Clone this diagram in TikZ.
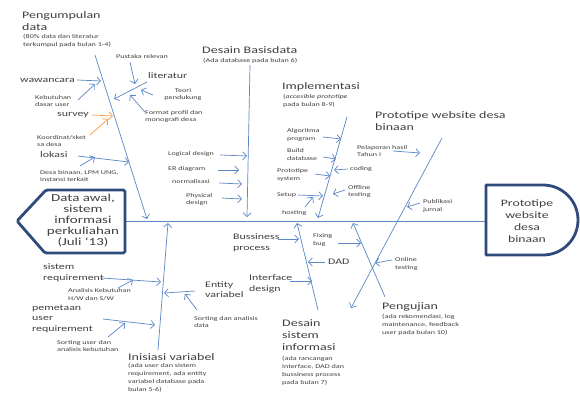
\documentclass[tikz,border=0pt]{standalone}
\usepackage{fontspec}
\setmainfont[FakeStretch=1.4]{Carlito}
\usetikzlibrary{arrows.meta}
\definecolor{ln}{HTML}{5B87C5}
\definecolor{org}{HTML}{F79646}
\definecolor{bx}{HTML}{2F4B7C}
\definecolor{txt}{HTML}{404040}
\tikzset{
 lbl/.style={inner sep=0pt, text=txt, align=left, anchor=west},
 ttl/.style={lbl, font=\fontsize{10}{12}\selectfont},
 mid/.style={lbl, font=\fontsize{8.5}{10.5}\selectfont},
 sml/.style={lbl, font=\fontsize{5.8}{7.9}\selectfont},
 arr/.style={draw=ln, line width=0.7pt, -{Straight Barb[length=3.8pt,width=8pt]}},
 oarr/.style={arr, draw=org},
 bone/.style={arr},
 spine/.style={draw=ln, line width=0.8pt},
 boxline/.style={draw=bx, line width=2.8pt, fill=white, line join=round}
}
\begin{document}
\begin{tikzpicture}[x=1pt,y=-1pt]
\useasboundingbox[fill=white] (0,0) rectangle (580,394);

% spine
\coordinate (lb) at (125,221);
\coordinate (rb) at (486,221);
\draw[spine] (lb) -- (rb);

% boxes
\draw[boxline, rounded corners=1.5pt] (125,190) -- (125,253) -- (45,253) -- (17,221) -- (46,190) -- cycle;
\draw[boxline] (486,185) -- (543,185) .. controls (562.3,185) and (578,200.7) .. (578,220)
  .. controls (578,239.3) and (562.3,255) .. (543,255) -- (486,255) -- cycle;
\node[font=\fontsize{10.7}{10.8}\selectfont, align=center, text=txt, inner sep=0pt] (src) at (83,220.5) {Data awal,\\sistem\\informasi\\perkuliahan\\(Juli `13)};
\node[font=\fontsize{9.8}{12}\selectfont, align=center, text=txt, inner sep=0pt] (dst) at (527,221) {Prototipe\\website\\desa\\binaan};

% titles
\node[ttl] (t1) at (22,21) {Pengumpulan\\data};
\node[sml] (s1) at (23,41) {(80\% data dan literatur\\terkumpul pada bulan 1-4)};
\node[ttl] (t2) at (202,50) {Desain Basisdata};
\node[sml] (s2) at (203,61) {(Ada database pada bulan 6)};
\node[ttl] (t3) at (282,87) {Implementasi};
\node[sml] (s3) at (283,101) {(\textit{accesible prototipe}\\pada bulan 8-9)};
\node[ttl] (t4) at (375,121) {Prototipe website desa\\binaan};
\node[ttl] (t5) at (382,307) {Pengujian};
\node[sml] (s5) at (382,325) {(ada rekomendasi, log\\maintenance, feedback\\user pada bulan 10)};
\node[ttl] (t6) at (282,335) {Desain\\sistem\\informasi};
\node[sml] (s6) at (282,370.5) {(ada rancangan\\interface, DAD dan\\bussiness process\\pada bulan 7)};
\node[ttl] (t7) at (128,357) {Inisiasi variabel};
\node[sml] (s7) at (128,378) {(ada user dan sistem\\requirement, ada entity\\variabel database pada\\bulan 5-6)};

% medium labels
\node[mid] (wawancara) at (20,80) {wawancara};
\node[mid] (survey) at (57,115) {survey};
\node[mid] (lokasi) at (40,155) {lokasi};
\node[mid] (literatur) at (148,76) {literatur};
\node[mid] (sisreq) at (43,273) {sistem\\requirement};
\node[mid] (pemetaan) at (32,318.5) {pemetaan\\user\\requirement};
\node[mid] (entity) at (205,289.5) {Entity\\variabel};
\node[mid] (bussiness) at (233,243) {Bussiness\\process};
\node[mid] (interface) at (249,284) {Interface\\design};
\node[mid] (dad) at (328,262) {DAD};

% small labels
\node[sml] (pustaka) at (116,57) {Pustaka relevan};
\node[sml] (kebutuhan) at (35,101) {Kebutuhan\\dasar user};
\node[sml, align=center, anchor=center] (teori) at (183,94.5) {Teori\\pendukung};
\node[sml] (format) at (145,116.5) {Format profil dan\\monografi desa};
\node[sml] (koordinat) at (37,141) {Koordinat/sket\\sa desa};
\node[sml] (desabinaan) at (40,176) {Desa binaan, LPM UNG,\\instansi terkait};
\node[sml] (logical) at (168,154) {Logical design};
\node[sml] (er) at (168,169) {ER diagram};
\node[sml] (normal) at (172,182) {normalisasi};
\node[sml] (physical) at (186,199.5) {Physical\\design};
\node[sml] (algo) at (287,135) {Algoritma\\program};
\node[sml] (build) at (287,154.5) {Build\\database};
\node[sml] (protosys) at (277,175) {Prototipe\\system};
\node[sml] (setup) at (277,195) {Setup};
\node[sml] (hosting) at (282,213) {hosting};
\node[sml] (coding) at (350,169) {coding};
\node[sml] (offline) at (348,191.5) {Offline\\testing};
\node[sml] (pelaporan) at (357,151) {Pelaporan hasil\\Tahun I};
\node[sml] (publikasi) at (423,206) {Publikasi\\jurnal};
\node[sml] (fixing) at (313,240) {Fixing\\bug};
\node[sml] (online) at (395,264) {Online\\testing};
\node[sml] (analisis) at (68,295) {Analisis Kebutuhan\\H/W dan S/W};
\node[sml] (sortuser) at (57,346) {Sorting user dan\\analisis kebutuhan};
\node[sml] (sortdata) at (194,322) {Sorting dan analisis\\data};

% bones
\coordinate (b1s) at (95,55);   \coordinate (b1e) at (147,219);
\coordinate (b2s) at (250,65);  \coordinate (b2e) at (247,217);
\coordinate (b3s) at (347,117); \coordinate (b3e) at (318,218);
\coordinate (b4s) at (442,138); \coordinate (b4e) at (351,308);
\coordinate (b5s) at (385,297); \coordinate (b5e) at (353,223);
\coordinate (b6s) at (318,310); \coordinate (b6e) at (297,223);
\coordinate (b7s) at (158,350); \coordinate (b7e) at (168,223);
\foreach \b in {1,...,7} \draw[bone] (b\b s) -- (b\b e);

% Pengumpulan data
\coordinate (a1s) at (77,80);   \coordinate (a1e) at (101,81);
\coordinate (a2s) at (78,100);  \coordinate (a2e) at (95,84);
\coordinate (a3s) at (147,82);  \coordinate (a3e) at (114,99);
\coordinate (a4s) at (130,62);  \coordinate (a4e) at (135,84);
\coordinate (a5s) at (153,95);  \coordinate (a5e) at (141,90);
\coordinate (a6s) at (145,112); \coordinate (a6e) at (130,95);
\coordinate (a7s) at (78,156);  \coordinate (a7e) at (129,162);
\coordinate (a8s) at (80,166);  \coordinate (a8e) at (95,157);
\foreach \a in {1,...,8} \draw[arr] (a\a s) -- (a\a e);
\coordinate (o1s) at (92,115);  \coordinate (o1e) at (113,116);
\coordinate (o2s) at (90,135);  \coordinate (o2e) at (108,119);
\draw[oarr] (o1s) -- (o1e);
\draw[oarr] (o2s) -- (o2e);

% Desain Basisdata
\coordinate (c1s) at (220,155); \coordinate (c1e) at (247,156);
\coordinate (c2s) at (218,170); \coordinate (c2e) at (239,170);
\coordinate (c3s) at (219,183); \coordinate (c3e) at (242,184);
\coordinate (c4s) at (222,198); \coordinate (c4e) at (242,199);
\foreach \a in {1,...,4} \draw[arr] (c\a s) -- (c\a e);

% Implementasi
\coordinate (d1s) at (323,137); \coordinate (d1e) at (341,139);
\coordinate (d2s) at (323,157); \coordinate (d2e) at (336,159);
\coordinate (d3s) at (315,174); \coordinate (d3e) at (330,176);
\coordinate (d4s) at (348,169); \coordinate (d4e) at (334,170);
\coordinate (d5s) at (298,195); \coordinate (d5e) at (323,196);
\coordinate (d6s) at (305,207); \coordinate (d6e) at (313,197);
\coordinate (d7s) at (345,190); \coordinate (d7e) at (333,194);
\foreach \a in {1,...,7} \draw[arr] (d\a s) -- (d\a e);

% Prototipe
\coordinate (e1s) at (393,151); \coordinate (e1e) at (420,153);
\coordinate (e2s) at (420,203); \coordinate (e2e) at (407,207);
\foreach \a in {1,2} \draw[arr] (e\a s) -- (e\a e);

% Pengujian
\coordinate (f1s) at (392,260); \coordinate (f1e) at (375,263);
\coordinate (f2s) at (338,243); \coordinate (f2e) at (361,243);
\coordinate (f3s) at (325,262); \coordinate (f3e) at (308,262);
\foreach \a in {1,2,3} \draw[arr] (f\a s) -- (f\a e);

% Desain sistem informasi
\coordinate (g1s) at (278,239); \coordinate (g1e) at (299,239);
\coordinate (g2s) at (290,281); \coordinate (g2e) at (312,281);
\foreach \a in {1,2} \draw[arr] (g\a s) -- (g\a e);

% Inisiasi variabel
\coordinate (h1s) at (102,278); \coordinate (h1e) at (161,282);
\coordinate (h2s) at (118,288); \coordinate (h2e) at (133,280);
\coordinate (h3s) at (103,319); \coordinate (h3e) at (155,325);
\coordinate (h4s) at (108,337); \coordinate (h4e) at (125,323);
\coordinate (h5s) at (195,291); \coordinate (h5e) at (164,293);
\coordinate (h6s) at (197,310); \coordinate (h6e) at (185,294);
\foreach \a in {1,...,6} \draw[arr] (h\a s) -- (h\a e);
\end{tikzpicture}
\end{document}
